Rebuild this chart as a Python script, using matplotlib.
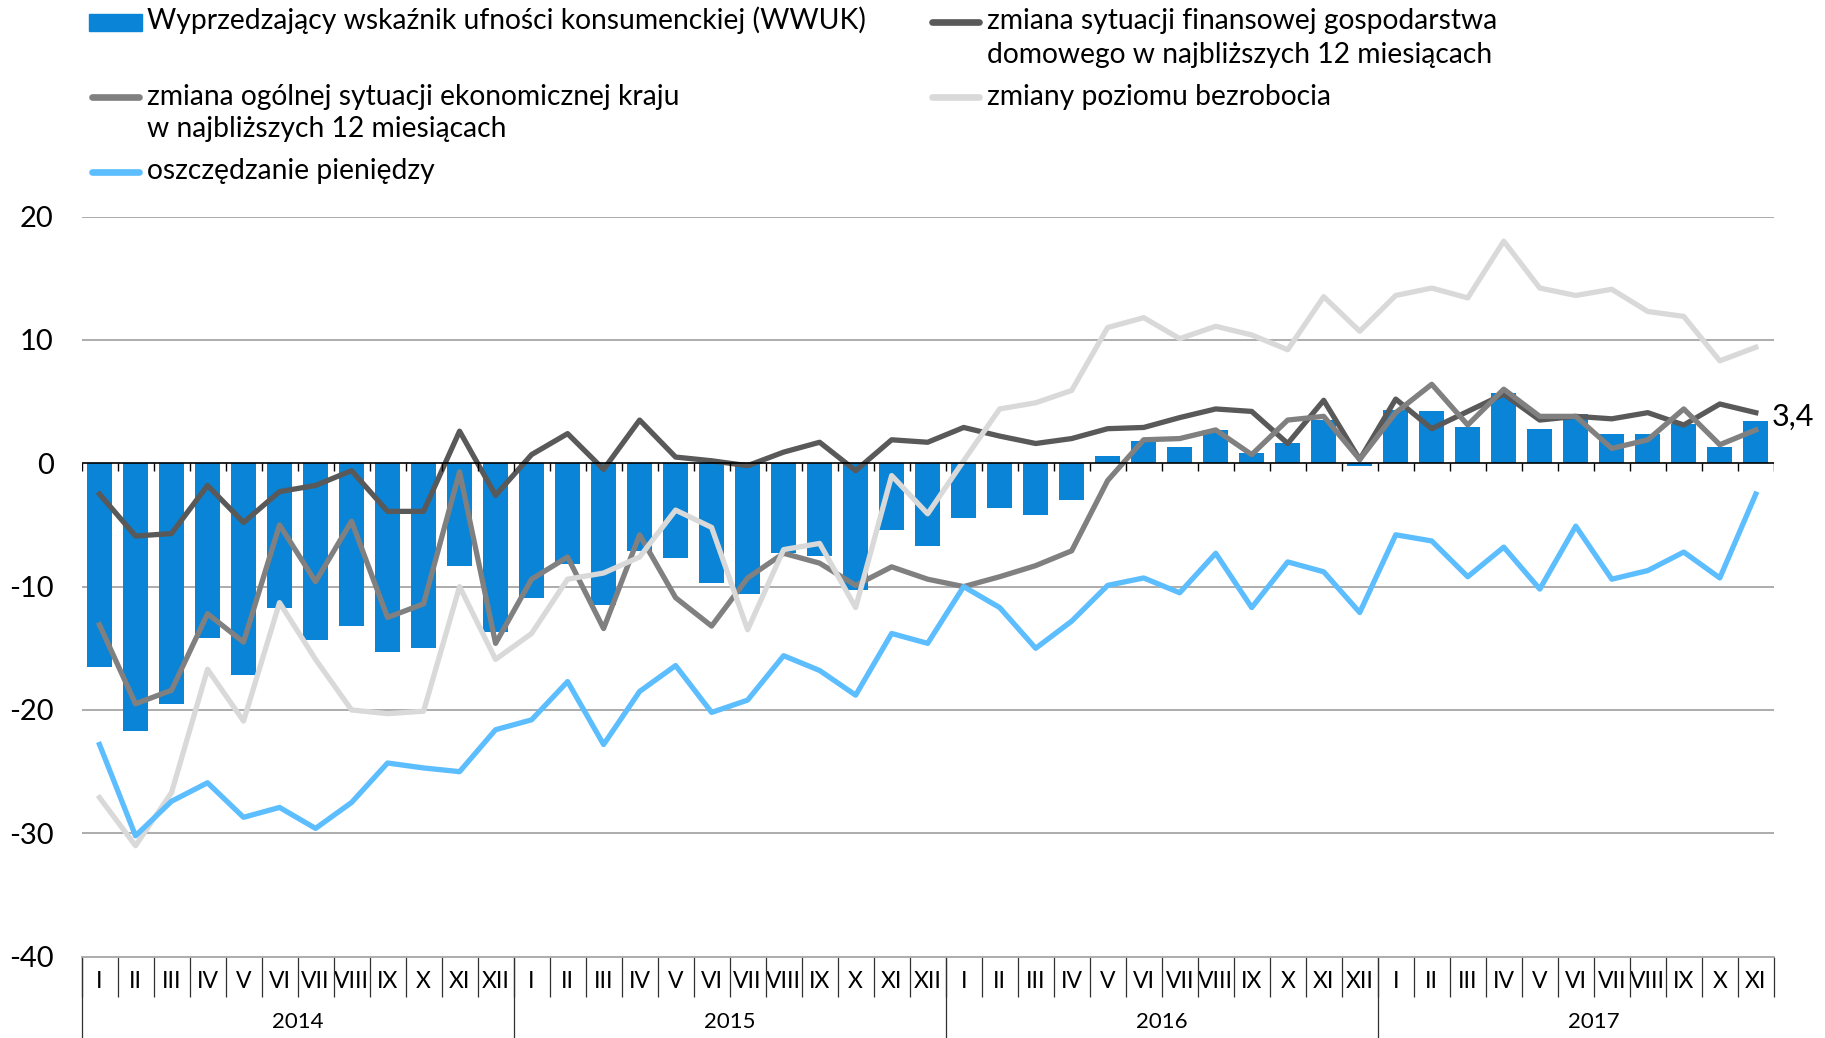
import matplotlib
matplotlib.use('Agg')
import matplotlib.pyplot as plt
from matplotlib.lines import Line2D
from matplotlib.patches import Rectangle
import numpy as np

plt.rcParams['font.family'] = ['Lato', 'DejaVu Sans']
plt.rcParams['axes.unicode_minus'] = False

months = ['I', 'II', 'III', 'IV', 'V', 'VI', 'VII', 'VIII', 'IX', 'X', 'XI', 'XII'] * 3 + \
         ['I', 'II', 'III', 'IV', 'V', 'VI', 'VII', 'VIII', 'IX', 'X', 'XI']
years = ['2014', '2015', '2016', '2017']

# Wyprzedzający wskaźnik ufności konsumenckiej (WWUK)
wwuk = [-16.5, -21.7, -19.5, -14.2, -17.2, -11.7, -14.3, -13.2, -15.3, -15.0, -8.3, -13.7,
        -10.9, -8.2, -11.5, -7.1, -7.7, -9.7, -10.6, -7.3, -7.5, -10.3, -5.4, -6.7,
        -4.4, -3.6, -4.2, -3.0, 0.6, 1.8, 1.3, 2.7, 0.8, 1.6, 3.5, -0.2,
        4.3, 4.2, 2.9, 5.7, 2.8, 4.0, 2.4, 2.4, 3.2, 1.3, 3.4]
# sytuacja finansowa gospodarstwa domowego
finanse = [-2.5, -5.9, -5.7, -1.8, -4.8, -2.3, -1.8, -0.6, -3.9, -3.9, 2.6, -2.6,
           0.7, 2.4, -0.5, 3.5, 0.5, 0.2, -0.2, 0.9, 1.7, -0.6, 1.9, 1.7,
           2.9, 2.2, 1.6, 2.0, 2.8, 2.9, 3.7, 4.4, 4.2, 1.6, 5.1, 0.3,
           5.2, 2.8, 4.2, 5.6, 3.5, 3.8, 3.6, 4.1, 3.1, 4.8, 4.1]
# ogólna sytuacja ekonomiczna kraju
kraj = [-13.1, -19.5, -18.4, -12.2, -14.5, -5.0, -9.6, -4.7, -12.5, -11.4, -0.7, -14.6,
        -9.4, -7.6, -13.4, -5.8, -10.9, -13.2, -9.3, -7.3, -8.1, -9.9, -8.4, -9.4,
        -10.0, -9.2, -8.3, -7.1, -1.4, 1.9, 2.0, 2.7, 0.7, 3.5, 3.8, 0.3,
        4.1, 6.4, 3.1, 6.0, 3.8, 3.8, 1.2, 1.9, 4.4, 1.5, 2.7]
# poziom bezrobocia
bezrobocie = [-27.1, -31.0, -26.7, -16.7, -20.9, -11.3, -15.9, -20.0, -20.3, -20.1, -10.0, -15.9,
              -13.8, -9.4, -8.9, -7.6, -3.8, -5.2, -13.5, -7.0, -6.5, -11.7, -1.0, -4.1,
              0.2, 4.4, 4.9, 5.9, 11.0, 11.8, 10.1, 11.1, 10.4, 9.2, 13.5, 10.7,
              13.6, 14.2, 13.4, 18.0, 14.2, 13.6, 14.1, 12.3, 11.9, 8.3, 9.4]
# oszczędzanie pieniędzy
oszczedzanie = [-22.8, -30.2, -27.4, -25.9, -28.7, -27.9, -29.6, -27.5, -24.3, -24.7, -25.0, -21.6,
                -20.8, -17.7, -22.8, -18.5, -16.4, -20.2, -19.2, -15.6, -16.8, -18.8, -13.8, -14.6,
                -10.0, -11.7, -15.0, -12.8, -9.9, -9.3, -10.5, -7.3, -11.7, -8.0, -8.8, -12.1,
                -5.8, -6.3, -9.2, -6.8, -10.2, -5.1, -9.4, -8.7, -7.2, -9.3, -2.5]

c_bar = '#0984d6'
c_fin = '#595959'
c_kraj = '#808080'
c_bezr = '#d9d9d9'
c_osz = '#5cbdff'
c_grid = '#a6a6a6'

W, H = 1825, 1038
fig = plt.figure(figsize=(W / 100, H / 100), dpi=100)
ax = fig.add_axes([81.5 / W, 1 - 956.7 / H, (1773.8 - 81.5) / W, (956.7 - 216.5) / H])

x = np.arange(len(months))
n = len(months)

for g in [20, 10, -10, -20, -30]:
    ax.axhline(g, color=c_grid, lw=1.3, zorder=0)

ax.bar(x, wwuk, width=0.7, color=c_bar, zorder=2)

lw = 3.8
ax.plot(x, finanse, color=c_fin, lw=lw, zorder=3)
ax.plot(x, kraj, color=c_kraj, lw=lw, zorder=4)
ax.plot(x, bezrobocie, color=c_bezr, lw=lw, zorder=5)
ax.plot(x, oszczedzanie, color=c_osz, lw=lw, zorder=6)

# zero line with small ticks between months
ax.axhline(0, color='black', lw=1.2, zorder=7)
ax.vlines(np.arange(n + 1) - 0.5, -0.65, 0, color='black', lw=1.0, zorder=7)

# last value of WWUK
last = f'{wwuk[-1]:.1f}'.replace('.', ',')
ax.text(n - 0.5 - 0.05, wwuk[-1] + 0.35, last, fontsize=22, va='center', ha='left')

ax.set_xlim(-0.5, n - 0.5)
ax.set_ylim(-40, 20)
ax.set_yticks(range(-40, 21, 10))
ax.tick_params(axis='y', length=0, pad=20, labelsize=21)

ax.set_xticks(x)
ax.set_xticklabels(months)
ax.set_xticks(np.arange(n + 1) - 0.5, minor=True)
ax.tick_params(axis='x', which='major', length=0, pad=10, labelsize=16.5)
ax.tick_params(axis='x', which='minor', length=29, width=0.9, color='#303030')

for s in ['top', 'right', 'left']:
    ax.spines[s].set_visible(False)
ax.spines['bottom'].set_color(c_grid)
ax.spines['bottom'].set_linewidth(1.3)

# year separators and labels
trans = ax.get_xaxis_transform()
ax.vlines([-0.5, 11.5, 23.5, 35.5], -0.11, 0, transform=trans, color='#303030', lw=0.9, clip_on=False)
for i, yr in enumerate(years):
    ax.text(i * 12 + 5.5, -0.088, yr, transform=trans, ha='center', va='center', fontsize=16)


# legend drawn by hand (rows aligned across two columns)
def fx(px):
    return px / W


def fy(py):
    return 1 - py / H


def legend_line(x0, base, color, lines):
    fig.add_artist(Line2D([fx(x0 + 3), fx(x0 + 50)], [fy(base - 7.5)] * 2, color=color,
                          lw=4.8, solid_capstyle='round'))
    for k, t in enumerate(lines):
        fig.text(fx(x0 + 58), fy(base + 33 * k), t, fontsize=20.3, va='baseline', ha='left')


fig.add_artist(Rectangle((fx(89), fy(30.7)), fx(141.7) - fx(89), fy(14) - fy(30.7), color=c_bar))
fig.text(fx(146.7), fy(29.5), 'Wyprzedzający wskaźnik ufności konsumenckiej (WWUK)',
         fontsize=20.3, va='baseline', ha='left')
legend_line(929, 29.5, c_fin, ['zmiana sytuacji finansowej gospodarstwa',
                               'domowego w najbliższych 12 miesiącach'])
legend_line(89, 104.5, c_kraj, ['zmiana ogólnej sytuacji ekonomicznej kraju',
                                'w najbliższych 12 miesiącach'])
legend_line(929, 104.5, c_bezr, ['zmiany poziomu bezrobocia'])
legend_line(89, 179.3, c_osz, ['oszczędzanie pieniędzy'])

fig.savefig('out.png', dpi=100)
